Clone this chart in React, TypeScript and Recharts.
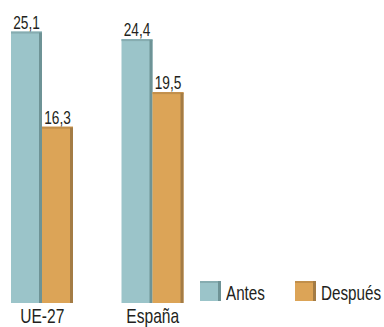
import React from "react";
import { BarChart, Bar, XAxis, YAxis, LabelList } from "recharts";

const regions = ["UE-27", "España"];
const antes = [25.1, 24.4];
const despues = [16.3, 19.5];

const data = regions.map((r, i) => ({ region: r, antes: antes[i], despues: despues[i] }));

const FONT = '"Liberation Sans", Arial, sans-serif';
const INK = "#231f20";
const NARROW = 0.78;

const COLORS = {
  antes: { fill: "#9bc4c9", edge: "#6e9396", top: "#86acb0" },
  despues: { fill: "#dca457", edge: "#a47c45", top: "#c18f4b" },
};

type Shade = { fill: string; edge: string; top: string };

function shaded(c: Shade) {
  return (props: any) => {
    const { x, y, width, height } = props;
    if (!height || height <= 0) return null;
    return (
      <g>
        <rect x={x} y={y} width={width} height={height} fill={c.fill} />
        <rect x={x} y={y} width={width} height={2} fill={c.top} />
        <rect x={x + width - 3} y={y + 1} width={3} height={height - 1} fill={c.edge} />
      </g>
    );
  };
}

const fmt = (v: number) => String(v).replace(".", ",");

function ValueLabel(props: any) {
  const { x, y, width, value } = props;
  return (
    <g transform={`translate(${x + width / 2},${y - 3}) scale(0.76,1)`}>
      <text textAnchor="middle" fontFamily={FONT} fontSize={18} fill={INK}>
        {fmt(value)}
      </text>
    </g>
  );
}

function RegionTick(props: any) {
  const { x, y, payload } = props;
  return (
    <g transform={`translate(${x},${y + 12}) scale(${NARROW},1)`}>
      <text textAnchor="middle" fontFamily={FONT} fontSize={20} fill={INK}>
        {payload.value}
      </text>
    </g>
  );
}

function LegendBox({ c }: { c: Shade }) {
  return (
    <svg width={22} height={22} style={{ display: "block" }}>
      <rect x={0} y={1} width={20} height={20} fill={c.fill} />
      <rect x={0} y={1} width={20} height={2} fill={c.top} />
      <rect x={18} y={1} width={3} height={20} fill={c.edge} />
    </svg>
  );
}

const legendItems = [
  { label: "Antes", c: COLORS.antes, left: 0 },
  { label: "Después", c: COLORS.despues, left: 95 },
];

export default function App() {
  return (
    <>
      <div style={{ position: "absolute", left: -13, top: 0, width: 400, height: 327 }}>
        <BarChart
          width={400}
          height={327}
          data={data}
          margin={{ top: 11, right: 179, bottom: 0, left: 0 }}
          barGap={0}
          barSize={31}
        >
          <XAxis dataKey="region" height={24} axisLine={false} tickLine={false} interval={0} tick={<RegionTick />} />
          <YAxis hide width={0} domain={[0, 27]} />
          <Bar dataKey="antes" shape={shaded(COLORS.antes)} isAnimationActive={false}>
            <LabelList dataKey="antes" content={<ValueLabel />} />
          </Bar>
          <Bar dataKey="despues" shape={shaded(COLORS.despues)} isAnimationActive={false}>
            <LabelList dataKey="despues" content={<ValueLabel />} />
          </Bar>
        </BarChart>
      </div>
      <div style={{ position: "absolute", left: 200, top: 280, width: 184, height: 24, fontFamily: FONT, fontSize: 19.5, color: INK }}>
        {legendItems.map((it) => (
          <div key={it.label} style={{ position: "absolute", left: it.left, top: 0, display: "flex", alignItems: "center" }}>
            <LegendBox c={it.c} />
            <span
              style={{
                marginLeft: 4,
                lineHeight: "22px",
                display: "inline-block",
                position: "relative",
                top: 2,
                whiteSpace: "nowrap",
                transform: `scaleX(${NARROW})`,
                transformOrigin: "left center",
              }}
            >
              {it.label}
            </span>
          </div>
        ))}
      </div>
    </>
  );
}
